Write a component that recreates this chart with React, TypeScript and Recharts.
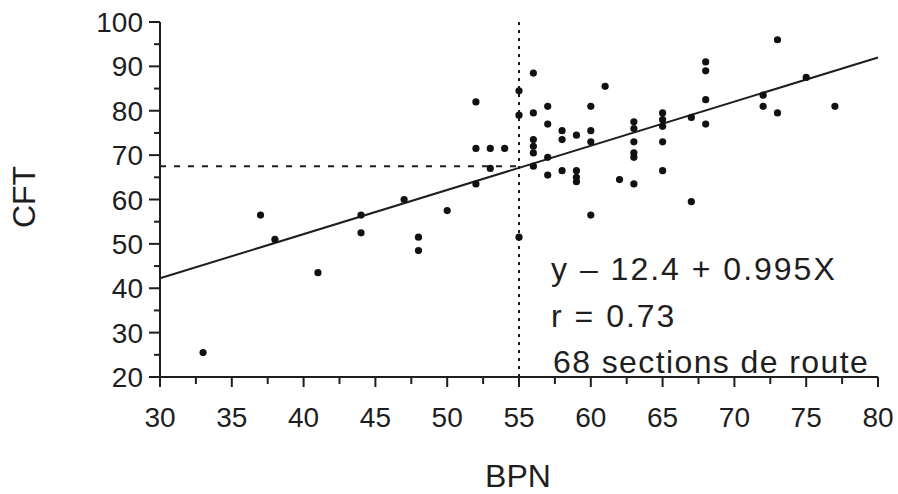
import React from 'react';
import { ScatterChart, Scatter, XAxis, YAxis, ReferenceLine, Customized } from 'recharts';

const xTicks = [30, 32.5, 35, 37.5, 40, 42.5, 45, 47.5, 50, 52.5, 55, 57.5, 60, 62.5, 65, 67.5, 70, 72.5, 75, 77.5, 80];
const yTicks = [20, 25, 30, 35, 40, 45, 50, 55, 60, 65, 70, 75, 80, 85, 90, 95, 100];

const bpn = [
  33, 37, 38, 41, 44, 44, 47, 48, 48, 50,
  52, 52, 52, 53, 53, 54, 55, 55, 55, 56,
  56, 56, 56, 56, 56, 57, 57, 57, 57, 58,
  58, 58, 59, 59, 59, 59, 60, 60, 60, 60,
  61, 62, 63, 63, 63, 63, 63, 63, 65, 65,
  65, 65, 65, 67, 67, 68, 68, 68, 68, 72,
  72, 73, 73, 75, 77,
];
const cft = [
  25.5, 56.5, 51, 43.5, 56.5, 52.5, 60, 51.5, 48.5, 57.5,
  82, 71.5, 63.5, 71.5, 67, 71.5, 84.5, 79, 51.5, 88.5,
  79.5, 73.5, 72, 70.5, 67.5, 81, 77, 69.5, 65.5, 75.5,
  73.5, 66.5, 74.5, 66.5, 65, 64, 81, 75.5, 73, 56.5,
  85.5, 64.5, 77.5, 76, 73, 70.5, 69.5, 63.5, 79.5, 78,
  76.5, 73, 66.5, 78.5, 59.5, 91, 89, 82.5, 77, 83.5,
  81, 79.5, 96, 87.5, 81,
];

const fitIntercept = 12.4;
const fitSlope = 0.995;
const meanBPN = 55;
const meanCFT = 67.5;

const xTitle = 'BPN';
const yTitle = 'CFT';
const annotationLines = ['y – 12.4 + 0.995X', 'r = 0.73', '68 sections de route'];

const FONT = '"Liberation Sans", Arial, Helvetica, sans-serif';
const INK = '#1e1e1e';

const points = bpn.map((x, i) => ({ x, y: cft[i] }));
const xMin = xTicks[0];
const xMax = xTicks[xTicks.length - 1];
const yMin = yTicks[0];
const yMax = yTicks[yTicks.length - 1];

const YTick = (props: any) => {
  const { x, y, payload } = props;
  const major = payload.value % 10 === 0;
  return (
    <g>
      <line x1={x - (major ? 11 : 6)} y1={y} x2={x} y2={y} stroke={INK} strokeWidth={2} />
      {major && (
        <text x={x - 17} y={y + 10} textAnchor="end" fontSize={28} fontFamily={FONT} fill={INK}>
          {payload.value}
        </text>
      )}
    </g>
  );
};

const XTick = (props: any) => {
  const { x, y, payload } = props;
  const major = payload.value % 5 === 0;
  return (
    <g>
      <line x1={x} y1={y} x2={x} y2={y + (major ? 10 : 7)} stroke={INK} strokeWidth={2} />
      {major && (
        <text x={x} y={y + 50} textAnchor="middle" fontSize={28} fontFamily={FONT} fill={INK}>
          {payload.value}
        </text>
      )}
    </g>
  );
};

const Dot = (props: any) => {
  const { cx, cy } = props;
  return <circle cx={cx} cy={cy} r={3.6} fill="#111" />;
};

const Texts = () => (
  <g fontFamily={FONT} fill={INK}>
    <text x={35} y={197} fontSize={32} textAnchor="middle" transform="rotate(-90, 35, 197)">
      {yTitle}
    </text>
    <text x={518} y={487} fontSize={32} textAnchor="middle">
      {xTitle}
    </text>
    <text x={551} y={280} fontSize={32} letterSpacing={2}>{annotationLines[0]}</text>
    <text x={551} y={327} fontSize={32} letterSpacing={2}>{annotationLines[1]}</text>
    <text x={553} y={373} fontSize={32} letterSpacing={1.4}>{annotationLines[2]}</text>
  </g>
);

export default function App() {
  return (
    <div style={{ position: 'absolute', left: 0, top: 0, background: '#fff' }}>
      <ScatterChart width={898} height={494} margin={{ top: 22, right: 20, bottom: 0, left: 0 }}>
        <XAxis
          type="number"
          dataKey="x"
          domain={[xMin, xMax]}
          ticks={xTicks}
          interval={0}
          allowDataOverflow
          height={117}
          tickSize={0}
          tickMargin={0}
          tickLine={false}
          tick={<XTick />}
          axisLine={{ stroke: INK, strokeWidth: 2 }}
        />
        <XAxis
          xAxisId="top"
          orientation="top"
          type="number"
          domain={[xMin, xMax]}
          height={0}
          tick={false}
          tickLine={false}
          axisLine={{ stroke: '#333', strokeWidth: 2 }}
        />
        <YAxis
          type="number"
          dataKey="y"
          domain={[yMin, yMax]}
          ticks={yTicks}
          interval={0}
          allowDataOverflow
          width={160}
          tickSize={0}
          tickMargin={0}
          tickLine={false}
          tick={<YTick />}
          axisLine={{ stroke: INK, strokeWidth: 2 }}
        />
        <YAxis
          yAxisId="right"
          orientation="right"
          type="number"
          domain={[yMin, yMax]}
          width={0}
          tick={false}
          tickLine={false}
          axisLine={{ stroke: '#333', strokeWidth: 2 }}
        />
        <ReferenceLine
          segment={[{ x: xMin, y: meanCFT }, { x: meanBPN, y: meanCFT }]}
          stroke={INK}
          strokeWidth={2}
          strokeDasharray="6 8"
          ifOverflow="visible"
        />
        <ReferenceLine
          segment={[{ x: meanBPN, y: yMin }, { x: meanBPN, y: yMax }]}
          stroke={INK}
          strokeWidth={2}
          strokeDasharray="3 5"
          ifOverflow="visible"
        />
        <ReferenceLine
          segment={[
            { x: xMin, y: fitIntercept + fitSlope * xMin },
            { x: xMax, y: fitIntercept + fitSlope * xMax },
          ]}
          stroke={INK}
          strokeWidth={2}
          ifOverflow="visible"
        />
        <Scatter data={points} shape={<Dot />} isAnimationActive={false} />
        <Customized component={<Texts />} />
      </ScatterChart>
    </div>
  );
}
